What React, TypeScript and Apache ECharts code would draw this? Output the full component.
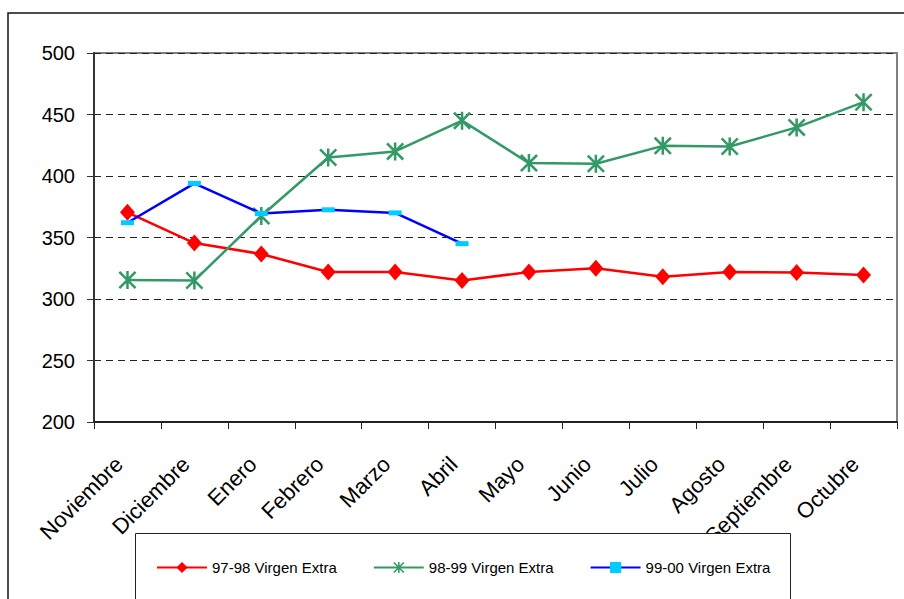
import React, { useEffect, useRef } from "react";
import * as echarts from "echarts";

const categories = [
  "Noviembre", "Diciembre", "Enero", "Febrero", "Marzo", "Abril",
  "Mayo", "Junio", "Julio", "Agosto", "Septiembre", "Octubre",
];
const serie9798 = [370.5, 345.5, 336.6, 322, 322, 315, 322, 325, 318, 322, 321.5, 319.5];
const serie9899 = [315.5, 315, 367.5, 415, 420, 445, 410.5, 410, 424.5, 424, 439.5, 460];
const serie9900 = [362, 394, 369.5, 372.5, 370, 345];
const seriesNames = ["97-98 Virgen Extra", "98-99 Virgen Extra", "99-00 Virgen Extra"];
const yMin = 200;
const yMax = 500;
const yStep = 50;

const starPath =
  "path://M43 0 L57 0 L57 100 L43 100 Z M0 10 L10 0 L100 90 L90 100 Z M90 0 L100 10 L10 100 L0 90 Z";

const FONT = "'Liberation Sans', Arial, Helvetica, sans-serif";

export default function App() {
  const ref = useRef<HTMLDivElement>(null);
  useEffect(() => {
    if (!ref.current) return;
    const chart = echarts.init(ref.current, undefined, { renderer: "svg" });
    chart.setOption({
      animation: false,
      backgroundColor: "#fff",
      textStyle: { fontFamily: FONT },
      grid: {
        left: 94,
        top: 53,
        width: 803,
        height: 369,
        show: true,
        borderColor: "#808080",
        borderWidth: 2,
        containLabel: false,
      },
      xAxis: {
        type: "category",
        data: categories,
        boundaryGap: true,
        axisLine: { show: true, lineStyle: { color: "#222", width: 2 } },
        axisTick: { show: true, length: 7, inside: false, lineStyle: { color: "#222", width: 1 } },
        axisLabel: {
          interval: 0,
          rotate: 45,
          margin: 30,
          padding: [0, 12, 0, 0],
          fontSize: 22,
          color: "#000",
          fontFamily: FONT,
        },
        splitLine: { show: false },
      },
      yAxis: {
        type: "value",
        min: yMin,
        max: yMax,
        interval: yStep,
        axisLine: { show: true, lineStyle: { color: "#333", width: 2 } },
        axisTick: { show: true, length: 7, lineStyle: { color: "#333", width: 1 } },
        axisLabel: { margin: 19, fontSize: 20, color: "#000", fontFamily: FONT },
        splitLine: { show: true, lineStyle: { color: "#222", width: 1, type: [7, 5] } },
      },
      legend: {
        left: 156,
        top: 560,
        padding: 0,
        z: 50,
        itemWidth: 50,
        itemHeight: 14,
        itemGap: 36,
        textStyle: { fontSize: 15, color: "#000", fontFamily: FONT },
        data: seriesNames,
      },
      graphic: [
        {
          type: "rect",
          z: 1,
          shape: { x: 8, y: 13, width: 1000, height: 1000 },
          style: { fill: "none", stroke: "#111", lineWidth: 1.5 },
          silent: true,
        },
        {
          type: "rect",
          z: 40,
          shape: { x: 135.5, y: 533.5, width: 655, height: 200 },
          style: { fill: "#fff", stroke: "#222", lineWidth: 1 },
          silent: true,
        },
      ],
      series: [
        {
          name: seriesNames[0],
          type: "line",
          data: serie9798,
          symbol: "diamond",
          symbolSize: [15, 17],
          lineStyle: { color: "#FF0000", width: 2.5 },
          itemStyle: { color: "#FF0000" },
          z: 3,
        },
        {
          name: seriesNames[1],
          type: "line",
          data: serie9899,
          symbol: starPath,
          symbolSize: 18,
          lineStyle: { color: "#339966", width: 2.5 },
          itemStyle: { color: "#339966" },
          z: 4,
        },
        {
          name: seriesNames[2],
          type: "line",
          data: serie9900,
          symbol: "rect",
          symbolSize: [13, 5],
          lineStyle: { color: "#0000FF", width: 2.5 },
          itemStyle: { color: "#00CCFF" },
          z: 5,
        },
      ],
    });
    return () => chart.dispose();
  }, []);
  return (
    <div
      ref={ref}
      style={{ position: "fixed", left: 0, top: 0, width: 904, height: 599, background: "#fff" }}
    />
  );
}
